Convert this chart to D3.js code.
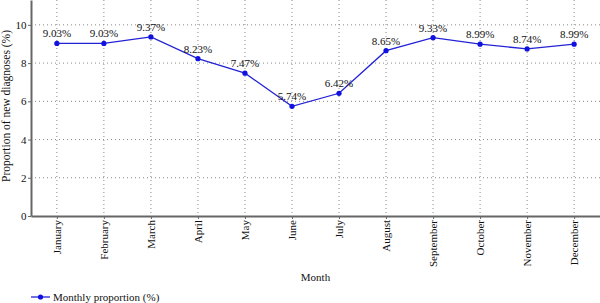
<!DOCTYPE html>
<html>
<head>
<meta charset="utf-8">
<script src="https://cdn.jsdelivr.net/npm/d3@7"></script>
<style>
  body { margin: 0; background: #fff; }
  svg { display: block; }
  svg text { font-family: "Liberation Serif", "DejaVu Serif", serif; }
</style>
</head>
<body>
<div class="outer-container"></div>
<script>
const months = ['January', 'February', 'March', 'April', 'May', 'June',
  'July', 'August', 'September', 'October', 'November', 'December']
const proportions = [9.03, 9.03, 9.37, 8.23, 7.47, 5.74, 6.42, 8.65, 9.33, 8.99, 8.74, 8.99]
const yTicks = [0, 2, 4, 6, 8, 10]

const w = 600
const h = 303
const plot = {
  left: 31,
  right: 600,
  top: 0,
  bottom: 216
}
const font = '"Liberation Serif", "DejaVu Serif", serif'

const xScale = d3.scalePoint()
  .domain(months)
  .range([plot.left, plot.right])
  .padding(0.55)

const yScale = d3.scaleLinear()
  .domain([0, 11.3])
  .range([plot.bottom, plot.top])

const svg = d3.select('.outer-container')
  .append('svg')
  .attr('width', w)
  .attr('height', h)

// grid
svg.append('g')
  .selectAll('line')
  .data(yTicks.filter(d => d > 0))
  .enter()
  .append('line')
  .attr('x1', plot.left)
  .attr('x2', plot.right)
  .attr('y1', d => yScale(d))
  .attr('y2', d => yScale(d))
  .attr('stroke', '#888')
  .attr('stroke-width', 1)
  .attr('stroke-dasharray', '1,3')

svg.append('g')
  .selectAll('line')
  .data(months)
  .enter()
  .append('line')
  .attr('x1', d => xScale(d))
  .attr('x2', d => xScale(d))
  .attr('y1', plot.top)
  .attr('y2', plot.bottom)
  .attr('stroke', '#888')
  .attr('stroke-width', 1)
  .attr('stroke-dasharray', '1,3')

const xAxis = d3.axisBottom(xScale).tickSize(3).tickSizeOuter(0)
const yAxis = d3.axisLeft(yScale).tickValues(yTicks).tickSize(3).tickSizeOuter(0)

const gx = svg.append('g')
  .attr('transform', 'translate(0,' + plot.bottom + ')')
  .call(xAxis)
  .attr('font-family', font)
  .attr('font-size', 11)
gx.select('.domain').attr('stroke', '#666').attr('stroke-width', 2)
gx.selectAll('.tick line').attr('stroke', '#666')
gx.selectAll('.tick text')
  .attr('fill', '#111')
  .attr('text-anchor', 'end')
  .attr('transform', 'rotate(-90)')
  .attr('x', -4)
  .attr('y', 0)
  .attr('dy', '0.35em')

const gy = svg.append('g')
  .attr('transform', 'translate(' + plot.left + ',0)')
  .call(yAxis)
  .attr('font-family', font)
  .attr('font-size', 11)
gy.select('.domain').attr('stroke', '#666').attr('stroke-width', 2)
gy.selectAll('.tick line').attr('stroke', '#666')
gy.selectAll('.tick text')
  .attr('fill', '#111')
  .attr('x', -4.5)

svg.append('text')
  .attr('transform', 'rotate(-90)')
  .attr('x', -106)
  .attr('y', 10)
  .attr('text-anchor', 'middle')
  .attr('font-size', '11.5px')
  .attr('fill', '#111')
  .text('Proportion of new diagnoses (%)')

svg.append('text')
  .attr('x', (plot.left + plot.right) / 2)
  .attr('y', 281)
  .attr('text-anchor', 'middle')
  .attr('font-size', '11px')
  .attr('fill', '#111')
  .text('Month')

const line = d3.line()
  .x((d, i) => xScale(months[i]))
  .y(d => yScale(d))

svg.append('path')
  .datum(proportions)
  .attr('fill', 'none')
  .attr('stroke', '#2323d6')
  .attr('stroke-width', 1.3)
  .attr('d', line)

svg.selectAll('circle.dot')
  .data(proportions)
  .enter()
  .append('circle')
  .attr('class', 'dot')
  .attr('cx', (d, i) => xScale(months[i]))
  .attr('cy', d => yScale(d))
  .attr('r', 2.6)
  .attr('fill', '#1010e0')

svg.selectAll('text.val')
  .data(proportions)
  .enter()
  .append('text')
  .attr('class', 'val')
  .attr('x', (d, i) => xScale(months[i]))
  .attr('y', d => yScale(d) - 6)
  .attr('text-anchor', 'middle')
  .attr('font-family', font)
  .attr('font-size', '11px')
  .attr('fill', '#111')
  .text(d => d.toFixed(2) + '%')

// legend
const legend = svg.append('g')
  .attr('transform', 'translate(31, 297)')
legend.append('line')
  .attr('x1', 0)
  .attr('x2', 19)
  .attr('stroke', '#2323d6')
  .attr('stroke-width', 1.3)
legend.append('circle')
  .attr('cx', 9.5)
  .attr('r', 2.6)
  .attr('fill', '#1010e0')
legend.append('text')
  .attr('x', 22)
  .attr('dy', '0.35em')
  .attr('font-size', '11px')
  .attr('fill', '#111')
  .text('Monthly proportion (%)')
</script>
</body>
</html>
